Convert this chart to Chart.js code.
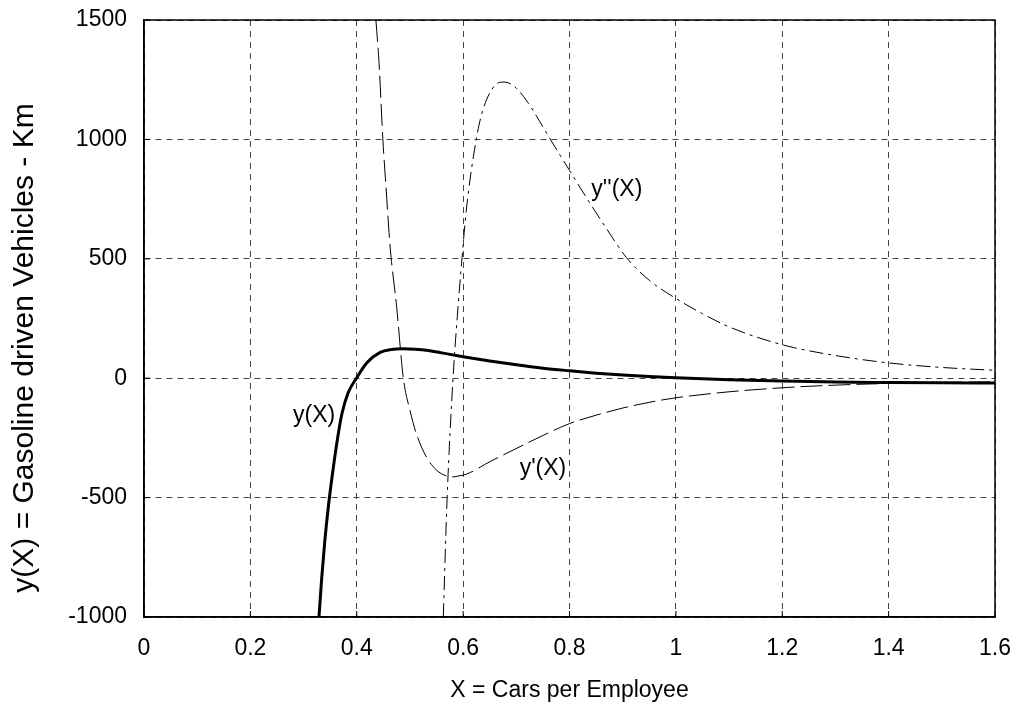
<!DOCTYPE html>
<html>
<head>
<meta charset="utf-8">
<script src="https://cdn.jsdelivr.net/npm/chart.js@4/dist/chart.umd.min.js"></script>
<style>
  html, body { margin: 0; padding: 0; background: #fff; }
  #wrap { width: 1015px; height: 707px; }
</style>
</head>
<body>
<div id="wrap"><canvas id="c" width="1015" height="707"></canvas></div>
<script>
// ---- data ----
const xTicks = [0, 0.2, 0.4, 0.6, 0.8, 1, 1.2, 1.4, 1.6];
const yTicks = [-1000, -500, 0, 500, 1000, 1500];

// y(X)
const yX = [0.329, 0.334, 0.340, 0.347, 0.355, 0.363, 0.372, 0.384, 0.400, 0.419, 0.444, 0.465, 0.4875, 0.510, 0.531, 0.56, 0.60, 0.65, 0.70, 0.75, 0.80, 0.85, 0.90, 0.95, 1.0, 1.1, 1.2, 1.3, 1.4, 1.5, 1.6];
const yV = [-1000, -840, -680, -530, -390, -265, -150, -60, 2, 65, 108, 120, 123, 121, 117, 106, 90, 72, 56, 42, 31, 21, 13, 7, 2, -6, -12, -16, -18, -19.5, -20.5];

// y'(X)
const dX = [0.436, 0.442, 0.449, 0.455, 0.463, 0.475, 0.4876, 0.500, 0.512, 0.531, 0.550, 0.569, 0.578, 0.590, 0.606, 0.650, 0.694, 0.75, 0.80, 0.85, 0.90, 0.95, 1.0, 1.1, 1.2, 1.3, 1.4, 1.5, 1.6];
const dV = [1500, 1318, 1004, 801, 544, 299, 0, -134, -232, -330, -385, -410, -414, -410, -402, -350, -301, -240, -190, -155, -125, -101, -82, -57, -40, -29, -22, -18, -15];

// y''(X)
const ddX = [0.5627, 0.570, 0.581, 0.589, 0.598, 0.606, 0.625, 0.637, 0.660, 0.675, 0.685, 0.70, 0.72, 0.74, 0.76, 0.80, 0.835, 0.87, 0.907, 0.95, 1.0, 1.05, 1.1, 1.2, 1.3, 1.4, 1.5, 1.6];
const ddV = [-1000, -497, 0, 257, 505, 704, 1004, 1122, 1227, 1240, 1237, 1215, 1160, 1090, 1015, 870, 745, 625, 505, 410, 334, 270, 215, 140, 95, 64, 45, 33];

// curve labels
const labelText = ["y''(X)", "y'(X)", "y(X)"];
const labelX = [0.889, 0.750, 0.320];
const labelY = [790, -380, -157];

const xTitle = "X = Cars per Employee";
const yTitle = "y(X) = Gasoline driven Vehicles - Km";

// ---- build ----
const pts = (xs, ys) => xs.map((x, i) => ({ x: x, y: ys[i] }));
const FONT = "'Liberation Sans', Arial, sans-serif";

const frame = {
  id: 'frame',
  afterDatasetsDraw(chart) {
    const { ctx, chartArea: a, scales } = chart;
    ctx.save();
    ctx.strokeStyle = '#000';
    ctx.lineWidth = 1.5;
    ctx.setLineDash([]);
    ctx.strokeRect(a.left, a.top, a.right - a.left, a.bottom - a.top);
    ctx.lineWidth = 1;
    xTicks.forEach(v => {
      const px = scales.x.getPixelForValue(v);
      ctx.beginPath(); ctx.moveTo(px, a.bottom); ctx.lineTo(px, a.bottom - 6); ctx.stroke();
    });
    yTicks.forEach(v => {
      const py = scales.y.getPixelForValue(v);
      ctx.beginPath(); ctx.moveTo(a.left, py); ctx.lineTo(a.left + 6, py); ctx.stroke();
    });
    ctx.fillStyle = '#000';
    ctx.font = '23px ' + FONT;
    ctx.textAlign = 'center';
    ctx.textBaseline = 'middle';
    labelText.forEach((t, i) => {
      ctx.fillText(t, scales.x.getPixelForValue(labelX[i]), scales.y.getPixelForValue(labelY[i]));
    });
    // y axis title
    ctx.save();
    ctx.translate(25, 348);
    ctx.rotate(-Math.PI / 2);
    ctx.font = '30px ' + FONT;
    ctx.fillText(yTitle, 0, 0);
    ctx.restore();
    ctx.restore();
  }
};

new Chart(document.getElementById('c'), {
  type: 'scatter',
  data: {
    datasets: [
      { label: "y''(X)", data: pts(ddX, ddV), showLine: true, borderColor: '#000', borderWidth: 1,
        borderDash: [14, 5, 3, 5], pointRadius: 0, cubicInterpolationMode: 'monotone' },
      { label: "y'(X)", data: pts(dX, dV), showLine: true, borderColor: '#000', borderWidth: 1,
        borderDash: [22, 6], pointRadius: 0, cubicInterpolationMode: 'monotone' },
      { label: "y(X)", data: pts(yX, yV), showLine: true, borderColor: '#000', borderWidth: 3,
        pointRadius: 0, cubicInterpolationMode: 'monotone' }
    ]
  },
  options: {
    responsive: false,
    animation: false,
    events: [],
    layout: { padding: { top: 20, right: 20, left: 0, bottom: 0 } },
    plugins: { legend: { display: false }, tooltip: { enabled: false } },
    scales: {
      x: {
        type: 'linear', min: 0, max: 1.6,
        afterBuildTicks: s => { s.ticks = xTicks.map(v => ({ value: v })); },
        afterFit: s => { s.height = 90; s.paddingLeft = 0; s.paddingRight = 0; },
        ticks: { color: '#000', font: { family: FONT, size: 23 }, padding: 18,
                 callback: v => String(v) },
        grid: { color: '#444', lineWidth: 1, drawTicks: false },
        border: { display: true, color: '#000', width: 1.5, dash: [6, 5] },
        title: { display: true, text: xTitle, color: '#000', font: { family: FONT, size: 23 },
                 padding: { top: 0, bottom: 3 } }
      },
      y: {
        type: 'linear', min: -1000, max: 1500,
        afterBuildTicks: s => { s.ticks = yTicks.map(v => ({ value: v })); },
        afterFit: s => { s.width = 144; s.paddingTop = 0; s.paddingBottom = 0; },
        ticks: { color: '#000', font: { family: FONT, size: 23 }, padding: 17,
                 callback: v => String(v) },
        grid: { color: '#444', lineWidth: 1, drawTicks: false },
        border: { display: true, color: '#000', width: 1.5, dash: [6, 5] },
        title: { display: false }
      }
    }
  },
  plugins: [frame]
});
</script>
</body>
</html>
